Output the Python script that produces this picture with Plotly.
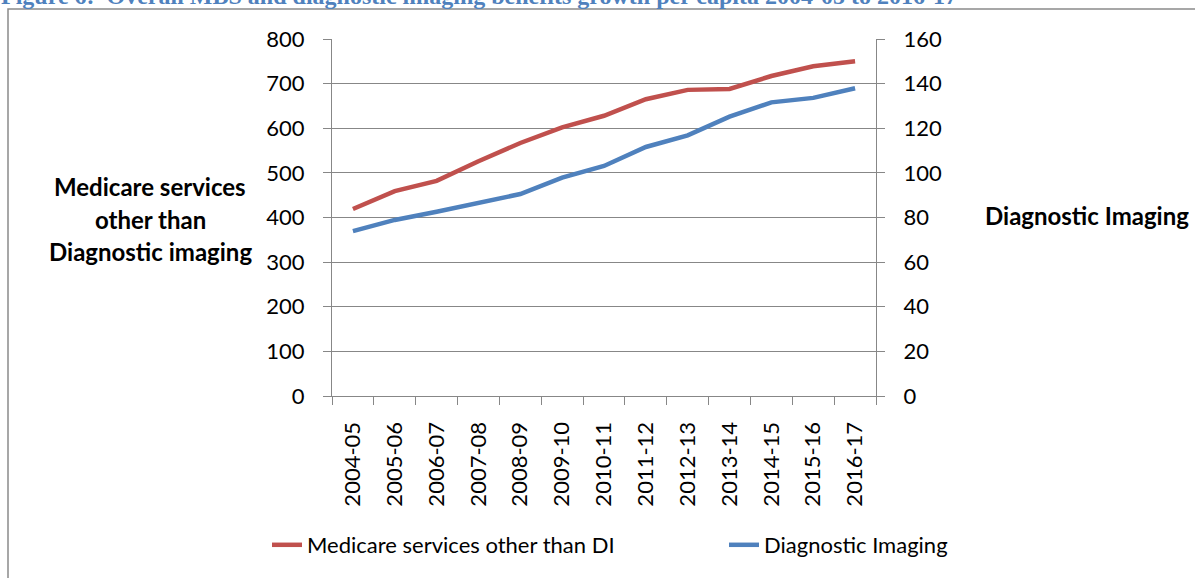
import plotly.graph_objects as go

years = ["2004-05", "2005-06", "2006-07", "2007-08", "2008-09", "2009-10", "2010-11",
         "2011-12", "2012-13", "2013-14", "2014-15", "2015-16", "2016-17"]
medicare_other = [419, 459, 482, 526, 567, 602, 628, 665, 686, 688, 717, 739, 750]
diag_imaging = [73.9, 78.9, 82.6, 86.3, 90.5, 97.9, 103.1, 111.6, 116.8, 125.2, 131.6, 133.6, 137.9]

left_ticks = list(range(0, 801, 100))
right_ticks = list(range(0, 161, 20))

W, H = 1195, 578
L, R, T, B = 332, 876, 39, 396


def px(x):
    return (x - L) / (R - L)


def py(y):
    return (B - y) / (B - T)


FONT = "Lato"
GRID = "#878787"

fig = go.Figure()
fig.add_trace(go.Scatter(x=years, y=medicare_other, mode="lines",
                         name="Medicare services other than DI", legend="legend",
                         line=dict(color="#C0504D", width=4.5)))
fig.add_trace(go.Scatter(x=years, y=diag_imaging, mode="lines",
                         name="Diagnostic Imaging", yaxis="y2", legend="legend2",
                         line=dict(color="#4F81BD", width=4.5)))

leg_common = dict(orientation="h", xanchor="left", yanchor="top",
                  font=dict(family=FONT, size=22, color="black"),
                  bgcolor="rgba(0,0,0,0)", itemwidth=30)

axis_common = dict(showline=True, linecolor=GRID, linewidth=1.2, ticks="outside",
                   ticklen=8, tickcolor=GRID, tickwidth=1.2, automargin=False,
                   tickfont=dict(family=FONT, size=22))

fig.update_layout(
    width=W, height=H,
    margin=dict(l=L, r=W - R, t=T, b=H - B, pad=0, autoexpand=False),
    paper_bgcolor="white", plot_bgcolor="white",
    font=dict(family=FONT, size=22, color="black"),
    showlegend=True,
    legend=dict(x=px(267), y=py(524), **leg_common),
    legend2=dict(x=px(724), y=py(524), **leg_common),
    xaxis=dict(type="category", categoryorder="array", categoryarray=years,
               range=[-0.5, len(years) - 0.5], showgrid=False,
               tickson="boundaries", tickangle=-90, ticklabelstandoff=16,
               **axis_common),
    yaxis=dict(range=[0, 800], tickvals=left_ticks, showgrid=True, gridcolor=GRID,
               gridwidth=1.2, ticklabelstandoff=14, zeroline=False, **axis_common),
    yaxis2=dict(range=[0, 160], tickvals=right_ticks, overlaying="y", side="right",
                showgrid=False, ticklabelstandoff=14, zeroline=False, **axis_common),
)

# outer chart border
fig.add_shape(type="rect", xref="paper", yref="paper",
              x0=px(8), x1=px(1260), y0=py(9), y1=py(640),
              line=dict(color="#8a8a8a", width=1.5), fillcolor="rgba(0,0,0,0)", layer="below")

# figure caption (cropped at top)
fig.add_annotation(xref="paper", yref="paper", x=px(-1), y=py(11), xanchor="left", yanchor="bottom",
                   text="Figure 6:  Overall MBS and diagnostic imaging benefits growth per capita 2004-05 to 2016-17",
                   showarrow=False,
                   font=dict(family="Liberation Serif", size=24, color="#4F81BD", weight="bold"))

# left axis title (three lines)
for txt, yy in [("Medicare services", 186), ("other than", 219), ("Diagnostic imaging", 251)]:
    fig.add_annotation(xref="paper", yref="paper", x=px(150), y=py(yy), xanchor="center",
                       yanchor="middle", text=txt, showarrow=False,
                       font=dict(family=FONT, size=24, color="black", weight="bold"))

# right axis title
fig.add_annotation(xref="paper", yref="paper", x=px(1087), y=py(215), xanchor="center",
                   yanchor="middle", text="Diagnostic Imaging", showarrow=False,
                   font=dict(family=FONT, size=24, color="black", weight="bold"))

fig.write_html("out.html")
